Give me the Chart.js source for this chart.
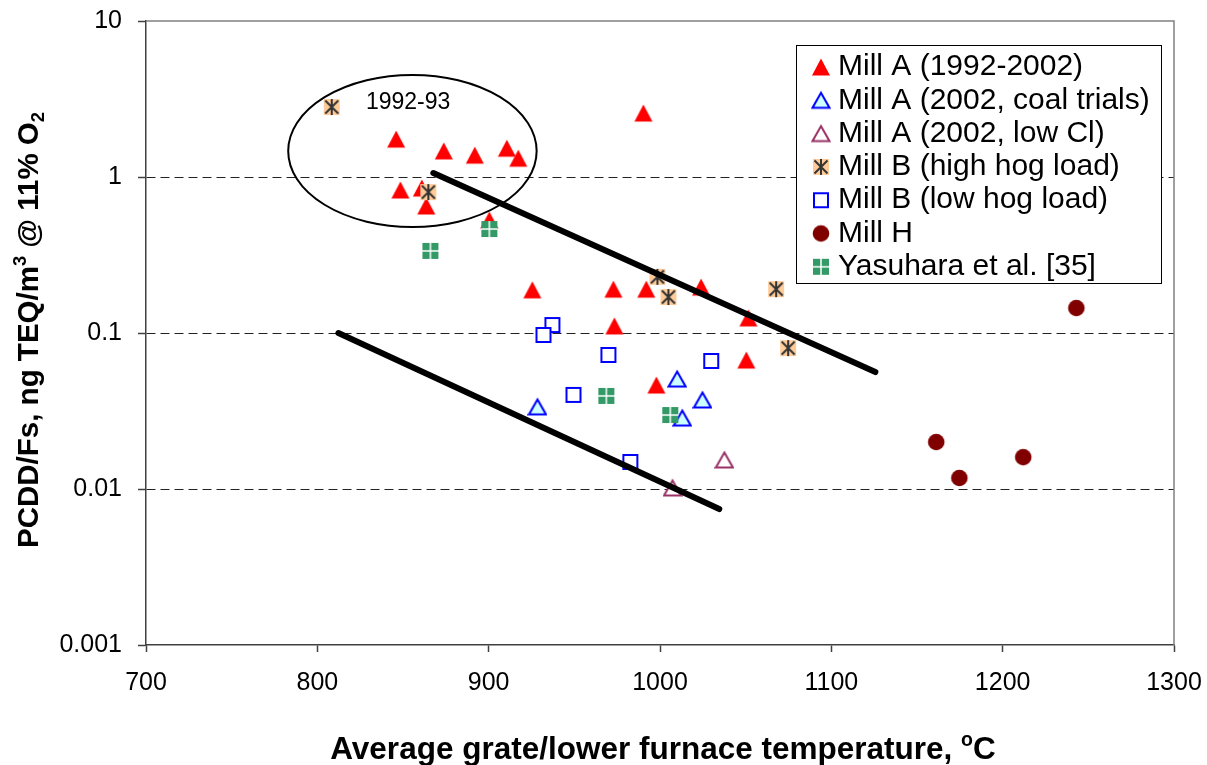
<!DOCTYPE html>
<html>
<head>
<meta charset="utf-8">
<script src="https://cdn.jsdelivr.net/npm/chart.js@4.4.0/dist/chart.umd.min.js"></script>
<style>
html, body { margin: 0; padding: 0; background: #fff; }
</style>
</head>
<body>
<canvas id="grafico" width="1207" height="765"></canvas>
<script>
const FONT = "'Liberation Sans', Arial, sans-serif";

const xTicks = [700, 800, 900, 1000, 1100, 1200, 1300];
const yTicks = [0.001, 0.01, 0.1, 1, 10];

// [temperature, PCDD/F] pairs
const millA = [[846, 1.75], [848.5, 0.826], [861, 0.85], [863.6, 0.652], [873.8, 1.47], [891.9, 1.38],
    [910.6, 1.53], [917.3, 1.32], [900.4, 0.53], [990.3, 2.57], [925.5, 0.189], [972.8, 0.191],
    [992, 0.191], [1024, 0.197], [973.4, 0.111], [1051.6, 0.125], [997.9, 0.0464], [1050.4, 0.0671]];
const millACoal = [[928.5, 0.0336], [1010, 0.0507], [1024.8, 0.0372], [1013, 0.0285]];
const millALowCl = [[1037.6, 0.01535], [1007.3, 0.01015]];
const millBHigh = [[808.4, 2.81], [864.8, 0.80], [998.5, 0.229], [1004.9, 0.170], [1067.8, 0.191], [1074.8, 0.080]];
const millBLow = [[937.2, 0.1125], [932, 0.0971], [969.9, 0.0723], [1029.9, 0.0662], [949.5, 0.0401], [982.7, 0.0149]];
const millH = [[1243, 0.1446], [1161.2, 0.020], [1174.7, 0.01177], [1212, 0.0160]];
const yasuhara = [[866, 0.336], [900.4, 0.464], [968.7, 0.0395], [1006, 0.0298]];

const upperTrend = [[867.7, 1.06], [1125.7, 0.0562]];
const lowerTrend = [[812.3, 0.1], [1034.6, 0.00744]];

const ellipse1992 = { xMin: 783, xMax: 928, yMin: 0.478, yMax: 4.51 };
const ellipseLabel = { x: 853, y: 2.98, text: '1992-93' };

const legendLabels = ['Mill A (1992-2002)', 'Mill A (2002, coal trials)', 'Mill A (2002, low Cl)',
    'Mill B (high hog load)', 'Mill B (low hog load)', 'Mill H', 'Yasuhara et al. [35]'];

function pts(arr) {
    return arr.map(function(p) { return { x: p[0], y: p[1] }; });
}

function marker(kind) {
    const c = document.createElement('canvas');
    c.width = 20;
    c.height = 20;
    const g = c.getContext('2d');
    if (kind === 'triFill') {
        g.fillStyle = '#FF0000';
        g.beginPath();
        g.moveTo(10, 1.5); g.lineTo(19, 18.5); g.lineTo(1, 18.5);
        g.closePath();
        g.fill();
    } else if (kind === 'triBlue' || kind === 'triPurple') {
        g.fillStyle = kind === 'triBlue' ? '#CCFFFF' : '#FFFFFF';
        g.strokeStyle = kind === 'triBlue' ? '#0000FF' : '#993366';
        g.lineWidth = 2;
        g.beginPath();
        g.moveTo(10, 2.5); g.lineTo(18.5, 17.5); g.lineTo(1.5, 17.5);
        g.closePath();
        g.fill();
        g.stroke();
    } else if (kind === 'star') {
        g.fillStyle = '#FFCC99';
        g.fillRect(2, 2, 16, 16);
        g.strokeStyle = '#333333';
        g.lineWidth = 2;
        g.beginPath();
        g.moveTo(10, 2); g.lineTo(10, 18);
        g.moveTo(3.5, 3.5); g.lineTo(16.5, 16.5);
        g.moveTo(16.5, 3.5); g.lineTo(3.5, 16.5);
        g.stroke();
    } else if (kind === 'square') {
        g.fillStyle = '#FFFFFF';
        g.strokeStyle = '#0000FF';
        g.lineWidth = 2;
        g.fillRect(3, 3, 14, 14);
        g.strokeRect(3, 3, 14, 14);
    } else if (kind === 'circle') {
        g.fillStyle = '#800000';
        g.beginPath();
        g.arc(10, 10, 8.3, 0, Math.PI * 2);
        g.fill();
    } else if (kind === 'green') {
        g.fillStyle = '#339966';
        g.fillRect(2, 2, 16, 16);
        g.strokeStyle = '#FFFFFF';
        g.lineWidth = 1.5;
        g.beginPath();
        g.moveTo(10, 2); g.lineTo(10, 18);
        g.moveTo(2, 10); g.lineTo(18, 10);
        g.stroke();
    }
    return c;
}

const markers = [marker('triFill'), marker('triBlue'), marker('triPurple'), marker('star'),
    marker('square'), marker('circle'), marker('green')];

function pointSet(label, arr, idx) {
    return {
        label: label,
        data: pts(arr),
        pointStyle: markers[idx],
        pointRadius: 9,
        pointHoverRadius: 9,
        showLine: false
    };
}

function trendSet(arr) {
    return {
        label: '',
        data: pts(arr),
        showLine: true,
        borderColor: '#000',
        borderWidth: 6,
        borderCapStyle: 'round',
        pointRadius: 0,
        fill: false
    };
}

// first dataset is drawn on top
const datasets = [
    trendSet(upperTrend),
    trendSet(lowerTrend),
    pointSet(legendLabels[6], yasuhara, 6),
    pointSet(legendLabels[5], millH, 5),
    pointSet(legendLabels[3], millBHigh, 3),
    pointSet(legendLabels[4], millBLow, 4),
    pointSet(legendLabels[2], millALowCl, 2),
    pointSet(legendLabels[1], millACoal, 1),
    pointSet(legendLabels[0], millA, 0)
];

function drawPieces(ctx, pieces, size, bold) {
    let total = 0;
    pieces.forEach(function(p) {
        const s = p[1] ? size * 0.62 : size;
        ctx.font = (bold ? 'bold ' : '') + s + 'px ' + FONT;
        p.w = ctx.measureText(p[0]).width;
        total += p.w;
    });
    let x = -total / 2;
    pieces.forEach(function(p) {
        const s = p[1] ? size * 0.62 : size;
        ctx.font = (bold ? 'bold ' : '') + s + 'px ' + FONT;
        const dy = p[1] === 'sup' ? -size * 0.42 : (p[1] === 'sub' ? size * 0.2 : 0);
        ctx.fillText(p[0], x, dy);
        x += p.w;
    });
}

const decoracao = {
    id: 'decoracao',
    beforeDatasetsDraw(chart) {
        const ctx = chart.ctx;
        const xs = chart.scales.x, ys = chart.scales.y;
        const a = chart.chartArea;
        // frame top/right
        ctx.save();
        ctx.strokeStyle = '#808080';
        ctx.lineWidth = 1.5;
        ctx.beginPath();
        ctx.moveTo(a.left, a.top);
        ctx.lineTo(a.right, a.top);
        ctx.lineTo(a.right, a.bottom);
        ctx.stroke();

        // 1992-93 ellipse
        const x1 = xs.getPixelForValue(ellipse1992.xMin), x2 = xs.getPixelForValue(ellipse1992.xMax);
        const y1 = ys.getPixelForValue(ellipse1992.yMax), y2 = ys.getPixelForValue(ellipse1992.yMin);
        ctx.strokeStyle = '#000';
        ctx.lineWidth = 2;
        ctx.beginPath();
        ctx.ellipse((x1 + x2) / 2, (y1 + y2) / 2, (x2 - x1) / 2, (y2 - y1) / 2, 0, 0, Math.PI * 2);
        ctx.stroke();

        ctx.fillStyle = '#000';
        ctx.font = '23px ' + FONT;
        ctx.textAlign = 'center';
        ctx.textBaseline = 'middle';
        ctx.fillText(ellipseLabel.text, xs.getPixelForValue(ellipseLabel.x), ys.getPixelForValue(ellipseLabel.y));
        ctx.restore();
    },
    afterDraw(chart) {
        const ctx = chart.ctx;
        const a = chart.chartArea;
        ctx.save();

        // axis titles
        ctx.fillStyle = '#000';
        ctx.textAlign = 'left';
        ctx.textBaseline = 'alphabetic';
        ctx.save();
        ctx.translate(38, (a.top + a.bottom) / 2 - 3);
        ctx.rotate(-Math.PI / 2);
        drawPieces(ctx, [['PCDD/Fs, ng TEQ/m', null], ['3', 'sup'], [' @ 11% O', null], ['2', 'sub']], 29.5, true);
        ctx.restore();
        ctx.save();
        ctx.translate((a.left + a.right) / 2 + 3, 759);
        drawPieces(ctx, [['Average grate/lower furnace temperature, ', null], ['o', 'sup'], ['C', null]], 31.5, true);
        ctx.restore();

        // legend box
        const bx = a.right - 378, by = a.top + 24, bw = 365, bh = 238;
        ctx.fillStyle = '#fff';
        ctx.fillRect(bx, by, bw, bh);
        ctx.strokeStyle = '#000';
        ctx.lineWidth = 1;
        ctx.strokeRect(bx + 0.5, by + 0.5, bw, bh);
        ctx.font = '30px ' + FONT;
        ctx.textBaseline = 'middle';
        ctx.fillStyle = '#000';
        legendLabels.forEach(function(txt, i) {
            const cy = by + 22 + i * 33.3;
            ctx.drawImage(markers[i], bx + 25 - 10, cy - 10);
            ctx.fillText(txt, bx + 42, cy);
        });
        ctx.restore();
    }
};

function noPad(s) {
    s.paddingTop = 0;
    s.paddingBottom = 0;
    s.paddingLeft = 0;
    s.paddingRight = 0;
}

const ctx = document.getElementById('grafico');

const grafico = new Chart(ctx, {
    type: 'scatter',
    data: { datasets: datasets },
    options: {
        responsive: false,
        animation: false,
        layout: { padding: { left: 0, right: 33, top: 21, bottom: 0 } },
        plugins: {
            legend: { display: false },
            tooltip: { enabled: false }
        },
        scales: {
            x: {
                type: 'linear',
                min: 700,
                max: 1300,
                afterBuildTicks: function(s) {
                    s.ticks = xTicks.map(function(v) { return { value: v }; });
                },
                ticks: {
                    font: { family: FONT, size: 25 },
                    color: '#000',
                    padding: 16,
                    maxRotation: 0,
                    callback: function(v) { return String(v); }
                },
                grid: { drawOnChartArea: false, tickLength: 7, tickColor: '#404040', tickWidth: 1.5 },
                border: { color: '#404040', width: 1.5 },
                afterFit: function(s) { s.height = 120; noPad(s); }
            },
            y: {
                type: 'logarithmic',
                min: 0.001,
                max: 10,
                afterBuildTicks: function(s) {
                    s.ticks = yTicks.map(function(v) { return { value: v }; });
                },
                ticks: {
                    font: { family: FONT, size: 25 },
                    color: '#000',
                    padding: 16,
                    callback: function(v) { return String(v); }
                },
                grid: {
                    color: function(c) {
                        const v = c.tick ? c.tick.value : null;
                        return (v === 1 || v === 0.1 || v === 0.01) ? '#222' : 'rgba(0,0,0,0)';
                    },
                    lineWidth: 1,
                    tickLength: 8,
                    tickColor: '#404040',
                    tickWidth: 1.5
                },
                border: { color: '#404040', width: 1.5, dash: [9, 5] },
                afterFit: function(s) { s.width = 146; noPad(s); }
            }
        }
    },
    plugins: [decoracao]
});
</script>
</body>
</html>
